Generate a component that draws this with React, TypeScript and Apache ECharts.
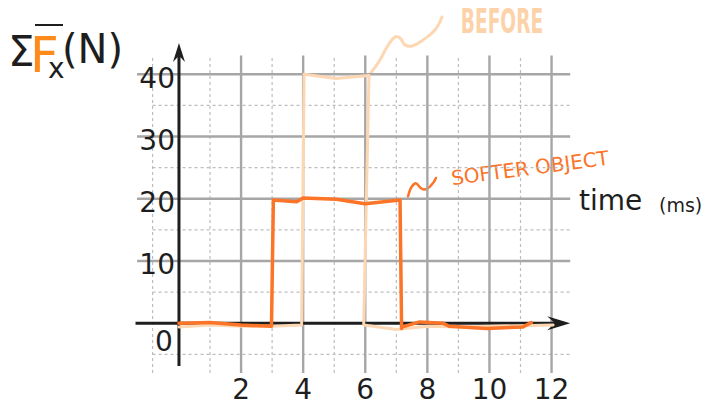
import React, { useEffect, useRef } from 'react';
import * as echarts from 'echarts';

// ---- data ----
const xTickLabels = [2, 4, 6, 8, 10, 12];
const yTickLabels = [10, 20, 30, 40];
const zeroLabel = [0];

const majorX = [2, 4, 6, 8, 10, 12];
const minorX = [-0.85, 1, 3, 5, 7, 9, 11];
const majorY = [10, 20, 30, 40];
const minorY = [-5, 5, 15, 25, 35];

const gridYExtent = [-8, 43];
const majorYLineXExtent = [-1.35, 12.6];
const minorYLineXExtent = [-0.85, 12.6];

const xAxisExtent = [-1.4, 12.6];
const yAxisExtent = [-6.9, 45];

const beforeX = [0, 1, 2, 3, 3.95, 4.03, 5.06, 6.12, 5.95, 7, 8, 9, 10, 11, 12.05];
const beforeY = [-0.6, -0.3, -0.5, -0.5, -0.3, 40, 39.3, 39.8, -0.3, -1, -0.5, -0.6, -0.5, -0.4, -0.3];

const softerX = [0, 1, 2, 2.98, 3.04, 3.79, 4, 5.07, 5.99, 7.12, 7.17, 7.2, 7.75, 8.5, 8.7, 9.9, 11.08, 11.35];
const softerY = [0, 0.1, -0.3, -0.5, 19.8, 19.5, 20.1, 19.9, 19.2, 19.8, -0.85, -0.6, 0.2, 0, -0.5, -0.85, -0.6, 0.1];

const FONT = '"DejaVu Sans", Verdana, sans-serif';
const INK = '#1e1e1e';
const ORANGE = '#fb7427';
const PEACH = '#fdd6b2';

function segmentSeries(data: number[][], stroke: string, lineWidth: number, dash: number[] | null, z: number) {
  return {
    type: 'custom',
    z,
    silent: true,
    data,
    renderItem: (_p: any, api: any) => {
      const a = api.coord([api.value(0), api.value(1)]);
      const b = api.coord([api.value(2), api.value(3)]);
      return {
        type: 'line',
        shape: { x1: a[0], y1: a[1], x2: b[0], y2: b[1] },
        style: { stroke, lineWidth, lineDash: dash || undefined, fill: null },
      };
    },
  };
}

function labelSeries(data: number[][], valueDim: number, dx: number, dy: number, align: string) {
  return {
    type: 'custom',
    z: 5,
    silent: true,
    data,
    renderItem: (_p: any, api: any) => {
      const p = api.coord([api.value(0), api.value(1)]);
      return {
        type: 'text',
        x: p[0] + dx,
        y: p[1] + dy,
        style: {
          text: String(api.value(valueDim)),
          fill: INK,
          fontSize: 28,
          fontFamily: FONT,
          textAlign: align,
          textVerticalAlign: 'middle',
        },
      };
    },
  };
}

export default function App() {
  const ref = useRef<HTMLDivElement>(null);

  useEffect(() => {
    if (!ref.current) return;
    const chart = echarts.init(ref.current, null, { renderer: 'svg' });

    const arrowSizes = [
      { len: 23, half: 7 },
      { len: 19, half: 6 },
    ];

    const option: any = {
      animation: false,
      backgroundColor: '#ffffff',
      grid: { left: 132.4, right: 128.6, top: 40, bottom: 30.8 },
      xAxis: { type: 'value', min: -1.5, max: 12.8, show: false },
      yAxis: { type: 'value', min: -8.2, max: 45.5, show: false },
      series: [
        segmentSeries(minorX.map((x) => [x, gridYExtent[0], x, gridYExtent[1]]), '#bdbdbd', 1.2, [3, 3], 1),
        segmentSeries(minorY.map((y) => [minorYLineXExtent[0], y, minorYLineXExtent[1], y]), '#bdbdbd', 1.2, [3, 3], 1),
        segmentSeries(majorX.map((x) => [x, gridYExtent[0], x, gridYExtent[1]]), '#a6a6a6', 2.4, null, 1),
        segmentSeries(majorY.map((y) => [majorYLineXExtent[0], y, majorYLineXExtent[1], y]), '#a6a6a6', 2.4, null, 1),
        {
          type: 'custom',
          z: 2,
          silent: true,
          data: [
            [xAxisExtent[0], 0, xAxisExtent[1], 0],
            [0, yAxisExtent[0], 0, yAxisExtent[1]],
          ],
          renderItem: (params: any, api: any) => {
            const a = api.coord([api.value(0), api.value(1)]);
            const b = api.coord([api.value(2), api.value(3)]);
            const s = arrowSizes[params.dataIndex];
            const dx = b[0] - a[0];
            const dy = b[1] - a[1];
            const d = Math.hypot(dx, dy);
            const ux = dx / d;
            const uy = dy / d;
            const nx = -uy;
            const ny = ux;
            const backX = b[0] - ux * s.len;
            const backY = b[1] - uy * s.len;
            const notchX = b[0] - ux * s.len * 0.66;
            const notchY = b[1] - uy * s.len * 0.66;
            return {
              type: 'group',
              children: [
                {
                  type: 'line',
                  shape: { x1: a[0], y1: a[1], x2: notchX, y2: notchY },
                  style: { stroke: INK, lineWidth: 3 },
                },
                {
                  type: 'polygon',
                  shape: {
                    points: [
                      [b[0], b[1]],
                      [backX + nx * s.half, backY + ny * s.half],
                      [notchX, notchY],
                      [backX - nx * s.half, backY - ny * s.half],
                    ],
                  },
                  style: { fill: INK },
                },
              ],
            };
          },
        },
        {
          type: 'line',
          z: 3,
          silent: true,
          symbol: 'none',
          data: beforeX.map((x, i) => [x, beforeY[i]]),
          lineStyle: { color: PEACH, width: 3, join: 'round', cap: 'round' },
        },
        {
          type: 'line',
          z: 4,
          silent: true,
          symbol: 'none',
          data: softerX.map((x, i) => [x, softerY[i]]),
          lineStyle: { color: ORANGE, width: 3.5, join: 'round', cap: 'round' },
        },
        labelSeries(yTickLabels.map((v) => [0, v]), 1, -4, 4, 'right'),
        labelSeries(xTickLabels.map((v) => [v, 0]), 0, 0, 66, 'center'),
        labelSeries(zeroLabel.map((v) => [v, v]), 0, -15, 18, 'center'),
      ],
      graphic: [
        // y axis title: Σ F̄x (N)
        {
          type: 'text',
          x: 8,
          y: 49,
          style: {
            text: '{s|Σ}{f|F}{x|x}{n|(N)}',
            fontFamily: FONT,
            textAlign: 'left',
            textVerticalAlign: 'middle',
            rich: {
              s: { fontSize: 42, fontFamily: FONT, fill: INK, width: 22, padding: [4, 0, 0, 0] },
              f: { fontSize: 50, fontFamily: FONT, fill: '#ff8a1c', width: 18, padding: [12, 0, 0, 0] },
              x: { fontSize: 28, fontFamily: FONT, fill: INK, width: 14, padding: [38, 0, 0, 0] },
              n: { fontSize: 40, fontFamily: FONT, fill: INK },
            },
          },
        },
        { type: 'line', shape: { x1: 35, y1: 25, x2: 63, y2: 25 }, style: { stroke: INK, lineWidth: 2 } },
        // x axis title
        { type: 'text', x: 579, y: 200.5, style: { text: 'time', fill: INK, fontSize: 28, fontFamily: FONT, textAlign: 'left', textVerticalAlign: 'middle' } },
        { type: 'text', x: 659, y: 205, style: { text: '(ms)', fill: INK, fontSize: 19, fontFamily: FONT, textAlign: 'left', textVerticalAlign: 'middle' } },
        // annotations
        {
          type: 'polyline',
          shape: {
            points: [[370, 74], [380, 60], [387, 47], [395, 37], [400, 38], [405, 45], [412, 46], [423, 40], [435, 30], [442, 17]],
            smooth: 0.4,
          },
          style: { stroke: PEACH, lineWidth: 3, fill: null, lineCap: 'round', lineJoin: 'round' },
        },
        {
          type: 'text', x: 502, y: 21, scaleX: 0.62, scaleY: 1.15,
          style: { text: 'BEFORE', fill: '#fcd2a9', fontSize: 30, fontWeight: 'bold', fontFamily: FONT, textAlign: 'center', textVerticalAlign: 'middle' },
        },
        {
          type: 'polyline',
          shape: {
            points: [[408, 196.5], [415, 183.5], [423, 189.3], [430, 186.5], [436, 178]],
            smooth: 0.5,
          },
          style: { stroke: ORANGE, lineWidth: 2.5, fill: null, lineCap: 'round', lineJoin: 'round' },
        },
        {
          type: 'text', x: 530, y: 168, rotation: 0.13,
          style: { text: 'SOFTER OBJECT', fill: ORANGE, fontSize: 20, fontFamily: FONT, textAlign: 'center', textVerticalAlign: 'middle' },
        },
      ],
    };

    chart.setOption(option);
    return () => chart.dispose();
  }, []);

  return <div ref={ref} style={{ position: 'absolute', left: 0, top: 0, width: 705, height: 405 }} />;
}
